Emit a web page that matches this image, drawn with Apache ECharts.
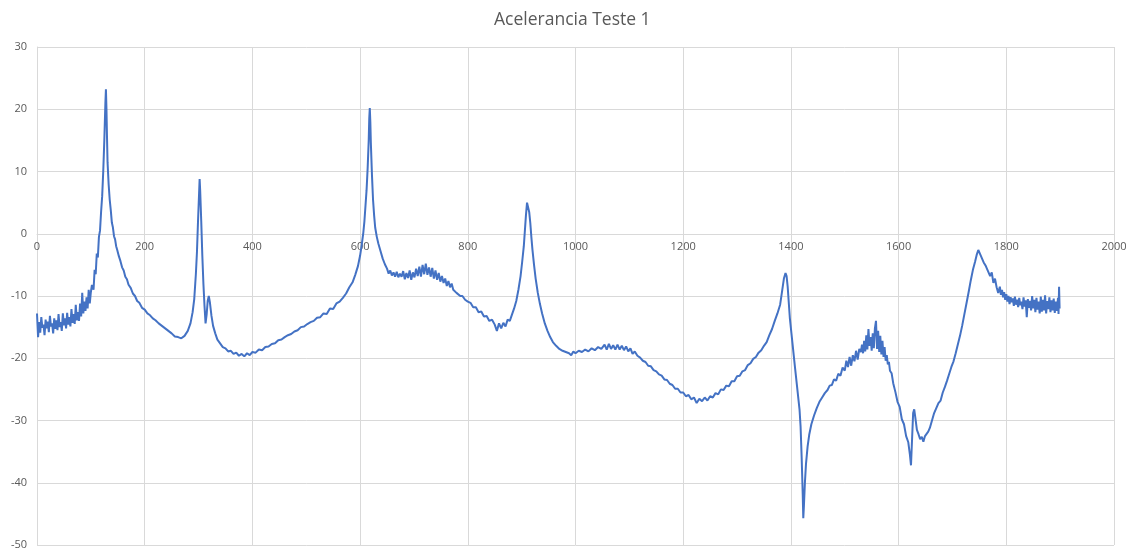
<!DOCTYPE html>
<html>
<head>
<meta charset="utf-8">
<title>Acelerancia Teste 1</title>
<script src="https://cdn.jsdelivr.net/npm/echarts@6/dist/echarts.min.js"></script>
<style>
  html, body { margin: 0; padding: 0; background: #fff; }
  #main { width: 1132px; height: 551px; }
</style>
</head>
<body>
<div id="main"></div>
<script>
// valores, pares [freq, aceleracao]
const seg1 = [[0,-12.8],[2,-16.6],[4,-14.2],[6,-15.9],[8,-13.4],[10,-15.1],[12,-14.6],[14,-16.3],[16,-13.8],[18,-15.2],[20,-14.1],[22,-15.8],[24,-13.2],[26,-14.9],[28,-14.4],[30,-16.0],[32,-13.6],[34,-15.3],[36,-13.9],[38,-15.5],[40,-12.9],[42,-15.0],[44,-14.2],[46,-15.6],[48,-12.8],[50,-14.7],[52,-13.6],[54,-15.2],[56,-12.7],[58,-14.6],[60,-13.4],[62,-14.9],[64,-12.1],[66,-14.3],[68,-12.9],[70,-14.5],[72,-11.4],[74,-13.9],[76,-12.6],[78,-14.0],[80,-11.2],[82,-13.3],[84,-9.5],[86,-12.8],[88,-10.9],[90,-12.4],[92,-10.2],[94,-12.0],[96,-9.0],[98,-11.2],[100,-9.4]];
const seg2 = [[102,-8.2],[105,-9.0],[107,-5.8],[109,-6.5],[111,-3.2],[113,-3.8],[115,-0.5],[117,0.5],[119,3.5],[121,6.0],[123,10.0],[125,15.0],[127,21.0],[128,23.2],[129,20.0],[130,15.5],[131,11.5],[133,8.0],[135,5.5]];
const seg3 = [[137,3.8],[139,1.8],[141,1.0],[143,-0.4],[145,-0.9],[147,-2.0],[149,-2.6],[152,-3.6],[155,-4.4],[158,-5.4],[161,-5.9],[164,-6.9],[167,-7.3],[170,-8.2],[174,-8.7],[178,-9.6],[182,-10.0],[186,-10.8],[190,-11.1],[195,-11.9],[200,-12.2],[205,-12.8],[210,-13.1],[215,-13.6],[220,-13.9],[226,-14.4],[232,-14.8],[238,-15.2],[244,-15.6],[250,-16.0],[256,-16.5],[262,-16.6],[268,-16.8],[274,-16.4],[280,-15.6],[285,-14.4],[289,-12.6]];
const seg4 = [[292,-10.5],[295,-6.5],[297,-3.0],[299,2.0],[301,6.5],[302,8.8],[303,7.0],[305,2.0],[307,-3.5],[309,-8.0],[311,-11.5],[313,-14.4],[315,-13.0],[317,-10.8],[319,-10.0],[321,-11.0],[324,-13.2],[327,-14.8],[331,-16.0],[335,-17.0]];
const seg5 = [[340,-17.6],[345,-18.2],[350,-18.4],[355,-18.9],[360,-18.8],[365,-19.3],[370,-19.1],[375,-19.6],[380,-19.3],[385,-19.7],[390,-19.2],[395,-19.5],[400,-19.0],[406,-19.1],[412,-18.6],[418,-18.7],[424,-18.2],[430,-18.1],[436,-17.7],[442,-17.6],[448,-17.1],[454,-17.0],[460,-16.6],[466,-16.3],[472,-16.1],[478,-15.7],[484,-15.5],[490,-15.0],[496,-14.9],[502,-14.5],[508,-14.2],[514,-14.0],[520,-13.5],[526,-13.4],[532,-12.8],[538,-12.9],[544,-12.0],[550,-12.1],[556,-11.2],[562,-10.9],[568,-10.3],[574,-9.6],[580,-8.6],[586,-7.8],[591,-6.6],[596,-5.2]];
const seg6 = [[600,-3.5],[603,-1.8],[606,0.2],[608,2.0],[610,4.5],[612,7.0],[614,10.5],[616,15.0],[617,18.5],[618,20.2],[619,18.0],[620,14.5],[622,9.5],[624,5.5],[626,3.0],[628,1.0],[631,-0.5],[634,-1.6],[638,-2.8],[642,-4.0],[646,-4.9]];
const seg7 = [[650,-5.6],[653,-6.4],[656,-5.9],[659,-6.7],[662,-6.2],[665,-6.9],[668,-6.1],[671,-7.0],[674,-6.4],[677,-6.9],[680,-6.0],[683,-7.3],[686,-6.3],[689,-7.1],[692,-5.9],[695,-7.4],[698,-6.2],[701,-7.0],[704,-5.6],[707,-6.8],[710,-5.3],[713,-6.9],[716,-5.0],[719,-6.5],[722,-4.8],[725,-6.6],[728,-5.4],[731,-6.9],[734,-5.5],[737,-7.2],[740,-5.9],[743,-7.4],[746,-6.3],[749,-7.7],[752,-6.8],[755,-7.9],[758,-7.2],[761,-8.4],[764,-7.6],[767,-8.6],[770,-8.0],[773,-9.0],[776,-8.7],[779,-9.5],[782,-9.3],[786,-10.0],[790,-10.0],[795,-10.6],[800,-10.9],[805,-11.1],[810,-11.8],[815,-11.8],[820,-12.6],[825,-12.5],[830,-13.3],[835,-13.2],[840,-14.0],[845,-13.8],[850,-14.6],[854,-15.6],[858,-14.4],[862,-15.2],[866,-14.3],[870,-14.9],[874,-13.8],[878,-14.0],[882,-13.0],[886,-12.0],[890,-10.8],[894,-9.0],[898,-6.8]];
const seg8 = [[901,-4.5],[904,-2.0],[906,0.5],[908,3.0],[910,5.0],[911,5.3],[912,5.0],[914,3.5],[916,1.8],[918,-0.5],[920,-2.5],[923,-5.0],[926,-7.2],[930,-9.5],[934,-11.3],[938,-12.8],[943,-14.4],[948,-15.6],[953,-16.6],[958,-17.4],[964,-18.0],[970,-18.5]];
const seg9 = [[976,-18.8],[982,-19.0],[988,-19.2],[992,-19.5],[996,-18.9],[1000,-19.2],[1006,-18.8],[1012,-19.0],[1018,-18.6],[1024,-18.9],[1030,-18.4],[1036,-18.7],[1042,-18.2],[1048,-18.5],[1054,-17.8],[1058,-18.6],[1062,-17.7],[1066,-18.5],[1070,-17.9],[1074,-18.6],[1078,-17.8],[1082,-18.6],[1086,-18.0],[1090,-18.7],[1094,-18.1],[1098,-18.9],[1102,-18.4],[1106,-19.3],[1110,-18.9],[1115,-19.6],[1120,-19.9],[1125,-20.4],[1130,-20.6],[1135,-21.2],[1140,-21.3],[1145,-21.9],[1150,-22.1],[1155,-22.6],[1160,-22.8],[1165,-23.4],[1170,-23.5],[1175,-24.1],[1180,-24.3],[1185,-24.9],[1190,-24.9],[1195,-25.5],[1200,-25.5],[1205,-26.1],[1210,-25.9],[1215,-26.6],[1220,-26.3],[1225,-27.2],[1230,-26.5],[1235,-26.9],[1240,-26.3],[1245,-26.8],[1250,-26.1],[1255,-26.3],[1260,-25.6],[1265,-25.8],[1270,-25.0],[1275,-25.1],[1280,-24.4],[1285,-24.5],[1290,-23.7],[1295,-23.7],[1300,-22.9],[1305,-22.8],[1310,-22.1],[1315,-21.9],[1320,-21.1],[1325,-20.8],[1330,-20.1],[1335,-19.8],[1340,-19.1],[1345,-18.7]];
const seg10 = [[1350,-18.0],[1355,-17.4],[1360,-16.3],[1365,-15.3],[1370,-14.0],[1375,-12.8],[1380,-11.4],[1384,-9.0],[1387,-7.2],[1390,-6.3],[1392,-6.8],[1394,-8.5],[1396,-11.0],[1398,-13.5],[1401,-16.0],[1404,-18.5],[1408,-21.8],[1412,-25.0],[1416,-28.2],[1418,-31.0],[1420,-36.0],[1422,-42.0],[1423,-45.7],[1424,-44.0],[1426,-40.0],[1428,-37.0],[1431,-34.2],[1434,-32.3],[1438,-30.6],[1443,-29.2],[1448,-28.0]];
const seg11 = [[1453,-27.0],[1458,-26.3],[1463,-25.6],[1468,-25.1],[1472,-24.4],[1476,-24.3],[1480,-23.4],[1484,-23.6],[1488,-22.5],[1492,-22.8],[1496,-21.5],[1500,-22.0],[1503,-20.4],[1506,-21.4],[1509,-19.8],[1512,-21.2],[1515,-19.5],[1518,-20.5],[1521,-18.8],[1524,-20.2],[1527,-18.5],[1530,-19.0],[1532,-17.8],[1534,-19.2],[1536,-17.2],[1538,-18.9],[1540,-16.3],[1542,-18.6],[1544,-15.3],[1546,-18.0],[1548,-16.6],[1550,-18.8],[1552,-16.0],[1554,-18.4],[1556,-15.2],[1558,-14.0],[1560,-18.5],[1562,-15.6],[1564,-19.0],[1566,-16.4],[1568,-19.4],[1570,-17.2],[1572,-19.8],[1574,-18.2],[1576,-20.4],[1578,-19.5],[1580,-21.0],[1582,-20.6],[1584,-22.0],[1587,-22.4],[1590,-24.0],[1594,-25.4],[1598,-27.0]];
const seg12 = [[1602,-27.8],[1606,-29.8],[1610,-30.6],[1614,-32.5],[1618,-33.5],[1621,-35.5],[1623,-37.2],[1625,-33.0],[1627,-28.8],[1629,-28.2],[1631,-29.5],[1634,-31.5],[1637,-32.2],[1640,-33.0],[1643,-32.6],[1646,-33.4],[1649,-32.5],[1652,-32.8],[1655,-31.8],[1658,-31.2],[1662,-30.0],[1666,-28.8],[1670,-28.0],[1674,-27.2],[1678,-26.8],[1682,-25.5],[1686,-24.6],[1690,-23.6],[1694,-22.5],[1698,-21.4],[1702,-20.5],[1706,-19.2],[1710,-17.8],[1714,-16.4],[1718,-14.8],[1722,-13.0],[1726,-11.2],[1730,-9.4],[1734,-7.5],[1738,-5.8],[1742,-4.5],[1745,-3.4],[1748,-2.6],[1750,-2.8],[1752,-3.4],[1755,-3.2],[1758,-4.6]];
const seg13 = [[1762,-5.2],[1766,-6.0],[1770,-6.8],[1773,-6.2],[1776,-7.9],[1779,-7.2],[1782,-8.6],[1785,-9.5],[1788,-8.5],[1790,-9.8],[1792,-9.0],[1794,-10.2],[1796,-9.4],[1798,-10.6],[1800,-9.7],[1802,-10.9],[1804,-10.0],[1806,-11.3],[1808,-10.2],[1810,-11.0],[1812,-10.4],[1814,-11.6],[1816,-10.1],[1818,-11.4],[1820,-10.6],[1822,-11.8],[1824,-10.3],[1826,-11.5],[1828,-10.9],[1830,-12.1],[1832,-10.2],[1834,-11.7],[1836,-10.7],[1838,-13.4],[1840,-10.5],[1842,-11.9],[1844,-10.8],[1846,-12.3],[1848,-10.0],[1850,-12.0],[1852,-10.6],[1854,-12.6],[1856,-10.3],[1858,-12.2],[1860,-10.9],[1862,-12.8],[1864,-10.1],[1866,-12.5],[1868,-10.6],[1870,-12.3],[1872,-9.9],[1874,-12.8],[1876,-10.8],[1878,-12.1],[1880,-10.2],[1882,-12.6],[1884,-10.7],[1886,-12.3],[1888,-10.4],[1890,-12.7],[1892,-10.9],[1894,-12.4],[1896,-10.3],[1897,-12.9],[1898,-8.5],[1899,-12.0]];

const xTicks = { min: 0, max: 2000, step: 200 };
const yTicks = { min: -50, max: 30, step: 10 };

let dados = [].concat(seg1, seg2, seg3, seg4, seg5, seg6, seg7, seg8, seg9, seg10, seg11, seg12, seg13);

// grade: topo 47, base 545 -> o eixo x fica na linha do zero
const gridTop = 47, gridBottom = 6, alturaTotal = 551;
const alturaGrade = alturaTotal - gridTop - gridBottom;
const deslocZero = -alturaGrade * (0 - yTicks.min) / (yTicks.max - yTicks.min);

let myChart = echarts.init(document.getElementById('main'));
myChart.setOption({
    animation: false,
    title: {
        text: 'Acelerancia Teste 1',
        left: 489,
        top: 6,
        textStyle: {
            color: '#595959',
            fontFamily: 'Open Sans',
            fontSize: 17.5,
            fontWeight: 'normal'
        }
    },
    grid: {
        left: 37,
        right: 18,
        top: gridTop,
        bottom: gridBottom,
        outerBoundsMode: 'none'
    },
    xAxis: {
        type: 'value',
        min: xTicks.min,
        max: xTicks.max,
        interval: xTicks.step,
        offset: deslocZero,
        axisLine: {
            onZero: false,
            lineStyle: { color: '#d9d9d9' }
        },
        axisTick: { show: false },
        axisLabel: {
            color: '#595959',
            fontFamily: 'Open Sans',
            fontSize: 11,
            margin: 8,
            formatter: v => String(v)
        },
        splitLine: {
            lineStyle: { color: '#d9d9d9' }
        }
    },
    yAxis: {
        type: 'value',
        min: yTicks.min,
        max: yTicks.max,
        interval: yTicks.step,
        axisLine: {
            show: true,
            onZero: false,
            lineStyle: { color: '#d9d9d9' }
        },
        axisTick: { show: false },
        axisLabel: {
            color: '#595959',
            fontFamily: 'Open Sans',
            fontSize: 11,
            margin: 10,
            formatter: v => String(v)
        },
        splitLine: {
            lineStyle: { color: '#d9d9d9' }
        }
    },
    series: [
        {
            name: 'Acelerancia',
            type: 'line',
            showSymbol: false,
            sampling: null,
            lineStyle: { color: '#4472C4', width: 2 },
            data: dados
        }
    ]
});
</script>
</body>
</html>
